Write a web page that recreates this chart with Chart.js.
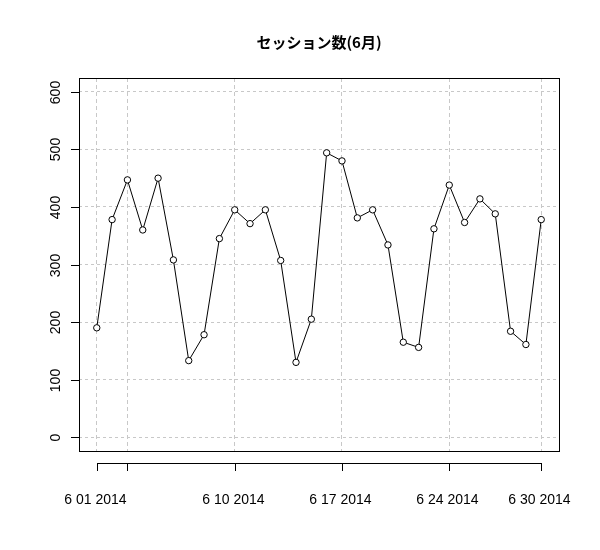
<!DOCTYPE html>
<html><head><meta charset="utf-8">
<script src="https://cdn.jsdelivr.net/npm/chart.js@4"></script>
<style>body{margin:0;background:#fff}#w{width:600px;height:550px}</style>
</head><body><div id="w"><canvas id="c"></canvas></div>
<script>
const days=[1,2,3,4,5,6,7,8,9,10,11,12,13,14,15,16,17,18,19,20,21,22,23,24,25,26,27,28,29,30];
const sessions=[190,378,447,360,450,308,133,178,345,395,371,395,307,130,205,494,480,381,395,334,165,156,362,438,373,414,388,184,161,378];
const xTicks=[1,3,10,17,24,30];
const xTickLabels={1:"6 01 2014",10:"6 10 2014",17:"6 17 2014",24:"6 24 2014",30:"6 30 2014"};
const yTicks=[0,100,200,300,400,500,600];
const title="セッション数(6月)";
const FONT='"Liberation Sans", Arial, sans-serif';
const deco={id:'deco',afterDraw(ch){
 const c=ch.ctx,a=ch.chartArea,x=ch.scales.x,y=ch.scales.y;
 c.save();c.strokeStyle='#000';c.lineWidth=1;c.fillStyle='#000';
 c.strokeRect(a.left+0.5,a.top+0.5,a.right-a.left,a.bottom-a.top);
 c.font='14px '+FONT;
 yTicks.forEach(v=>{const p=Math.round(y.getPixelForValue(v))+0.5;
  c.beginPath();c.moveTo(a.left-8,p);c.lineTo(a.left,p);c.stroke();
  c.save();c.translate(56,p);c.rotate(-Math.PI/2);c.textAlign='center';c.textBaseline='middle';c.fillText(String(v),0,0);c.restore();});
 c.beginPath();c.moveTo(Math.round(x.getPixelForValue(xTicks[0]))+0.5,a.bottom+12.5);
 c.lineTo(Math.round(x.getPixelForValue(xTicks[xTicks.length-1]))+0.5,a.bottom+12.5);c.stroke();
 xTicks.forEach(v=>{const p=Math.round(x.getPixelForValue(v))+0.5;
  c.beginPath();c.moveTo(p,a.bottom+12);c.lineTo(p,a.bottom+20);c.stroke();
  if(xTickLabels[v]){c.textAlign='center';c.textBaseline='middle';c.fillText(xTickLabels[v],p-2,500);}});
 c.font='bold 15px "Noto Sans CJK JP", '+FONT;c.textAlign='center';c.textBaseline='middle';
 c.fillText(title,(a.left+a.right)/2,42);
 c.restore();}};
new Chart(document.getElementById('c'),{type:'line',
 data:{datasets:[{data:days.map((d,i)=>({x:d,y:sessions[i]})),borderColor:'#000',borderWidth:1,
  pointRadius:3.2,pointBackgroundColor:'#fff',pointBorderColor:'#000',pointBorderWidth:1,tension:0}]},
 options:{animation:false,responsive:true,maintainAspectRatio:false,
  layout:{padding:{left:79,right:41,top:78,bottom:99}},
  plugins:{legend:{display:false},tooltip:{enabled:false}},
  scales:{
   x:{type:'linear',min:1-0.04*29,max:30+0.04*29,afterBuildTicks:s=>{s.ticks=xTicks.map(v=>({value:v}))},
      ticks:{display:false},border:{display:false,dash:[4,3]},grid:{color:'#c8c8c8',drawTicks:false,tickLength:0}},
   y:{type:'linear',min:-24,max:624,afterBuildTicks:s=>{s.ticks=yTicks.map(v=>({value:v}))},
      ticks:{display:false},border:{display:false,dash:[3,3]},grid:{color:'#c8c8c8',drawTicks:false,tickLength:0}}}},
 plugins:[deco]});
</script></body></html>
